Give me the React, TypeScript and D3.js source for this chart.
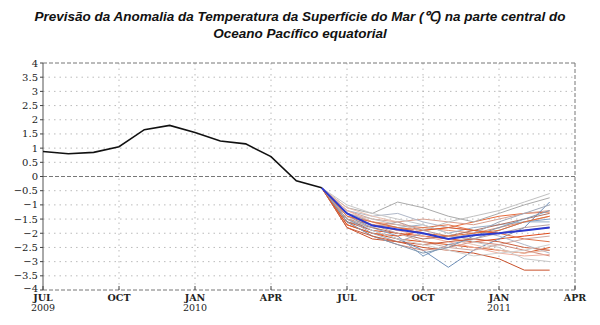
import React from "react";
import * as d3 from "d3";

const titleLines = [
  "Previsão da Anomalia da Temperatura da Superfície do Mar (℃) na parte central do",
  "Oceano Pacífico equatorial",
];
const yTicks = [-4, -3.5, -3, -2.5, -2, -1.5, -1, -0.5, 0, 0.5, 1, 1.5, 2, 2.5, 3, 3.5, 4];
const xTickMonths = [0, 3, 6, 9, 12, 15, 18, 21];
const xTickLabels = ["JUL", "OCT", "JAN", "APR", "JUL", "OCT", "JAN", "APR"];
const xTickYears = ["2009", "", "2010", "", "", "", "2011", ""];

// observed: Jul 2009 .. Jun 2010 (month index 0..11)
const observed = [0.88, 0.8, 0.85, 1.05, 1.65, 1.8, 1.55, 1.25, 1.15, 0.7, -0.15, -0.4];
// forecasts: Jun 2010 .. Mar 2011 (month index 11..20)
const forecastStart = 11;
const memberColors = [
  "#e04a1a", "#d9531e", "#e86a3a", "#c9502a", "#e89070", "#d8a090", "#aaaaaa", "#c0c0c0",
  "#7f9fc4", "#6f8fb8", "#9ab0c8", "#b0b8c8", "#d08878", "#e07850", "#f0b0a0", "#c8c8c8",
  "#b07060", "#e05828", "#a0a8b8", "#d0a8a0", "#e8c0b0", "#8098b0", "#cc6040", "#d0d0d0",
  "#b8a0a0", "#e2703c",
];
const members = [
  [-0.4, -1.6, -1.9, -2.0, -2.1, -2.2, -2.3, -2.2, -2.1, -2.0],
  [-0.4, -1.7, -2.0, -2.2, -2.3, -2.4, -2.5, -2.6, -2.7, -2.5],
  [-0.4, -1.5, -1.7, -1.8, -1.9, -1.8, -1.6, -1.4, -1.3, -1.25],
  [-0.4, -1.8, -2.2, -2.3, -2.5, -2.6, -2.7, -2.9, -3.3, -3.3],
  [-0.4, -1.3, -1.6, -1.7, -1.8, -1.9, -2.0, -1.8, -1.6, -1.4],
  [-0.4, -1.2, -1.5, -1.6, -1.5, -1.6, -1.7, -1.5, -1.3, -1.2],
  [-0.4, -1.1, -1.3, -0.9, -1.1, -1.4, -1.6, -1.3, -1.0, -0.75],
  [-0.4, -1.3, -1.5, -1.7, -1.9, -1.6, -1.4, -1.2, -0.9, -0.6],
  [-0.4, -1.4, -1.8, -2.1, -2.8, -2.4, -2.2, -1.9, -1.6, -1.5],
  [-0.4, -1.5, -1.9, -2.2, -2.6, -3.2, -2.6, -2.2, -1.8, -0.9],
  [-0.4, -1.3, -1.6, -1.8, -1.7, -2.0, -1.8, -1.7, -1.6, -1.6],
  [-0.4, -1.2, -1.4, -1.3, -1.6, -1.8, -1.9, -2.1, -2.4, -2.7],
  [-0.4, -1.6, -2.1, -2.4, -2.6, -2.5, -2.3, -2.4, -2.6, -2.8],
  [-0.4, -1.4, -1.7, -1.9, -1.8, -1.7, -1.9, -2.0, -2.2, -2.3],
  [-0.4, -1.2, -1.6, -1.9, -2.1, -2.3, -2.5, -2.7, -2.8, -2.75],
  [-0.4, -1.0, -1.3, -1.5, -1.7, -2.0, -2.3, -2.5, -2.9, -3.0],
  [-0.4, -1.6, -1.8, -2.0, -2.2, -2.1, -1.9, -1.7, -1.5, -1.3],
  [-0.4, -1.7, -2.0, -2.1, -1.9, -1.8, -1.9, -2.0, -1.9, -1.8],
  [-0.4, -1.5, -2.0, -2.3, -2.0, -2.2, -2.0, -1.6, -1.3, -1.0],
  [-0.4, -1.3, -1.7, -2.0, -2.3, -2.5, -2.6, -2.4, -2.2, -2.1],
  [-0.4, -1.1, -1.4, -1.6, -2.0, -2.2, -2.4, -2.6, -2.7, -2.6],
  [-0.4, -1.6, -2.1, -2.4, -2.7, -2.5, -2.1, -1.8, -1.5, -1.2],
  [-0.4, -1.8, -2.1, -2.3, -2.4, -2.3, -2.2, -2.3, -2.5, -2.6],
  [-0.4, -1.4, -1.9, -2.2, -2.4, -2.6, -2.8, -2.7, -2.6, -2.4],
  [-0.4, -1.5, -1.8, -1.6, -1.9, -2.1, -2.2, -2.0, -1.8, -1.7],
  [-0.4, -1.4, -1.6, -1.8, -2.0, -2.1, -2.0, -1.9, -1.6, -1.4],
];
const ensembleMean = [-0.4, -1.3, -1.73, -1.87, -2.0, -2.2, -2.07, -2.0, -1.9, -1.8];

export default function App() {
  const W = 600, H = 325;
  const x = d3.scaleLinear().domain([0, 21]).range([43, 575]);
  const y = d3.scaleLinear().domain([-4, 4]).range([290, 63]);
  const line = d3
    .line<number>()
    .x((_, i) => x(i))
    .y((d) => y(d));
  const fline = d3
    .line<number>()
    .x((_, i) => x(forecastStart + i))
    .y((d) => y(d));
  const tickFont = "'DejaVu Serif', serif";
  return (
    <svg width={W} height={H} style={{ position: "absolute", left: 0, top: 0, background: "#fff" }}>
      <rect width={W} height={H} fill="#fff" />
      {titleLines.map((t, i) => (
        <text
          key={i}
          x={300}
          y={21 + i * 17}
          textAnchor="middle"
          fontFamily="'Liberation Sans', Arial, sans-serif"
          fontWeight="bold"
          fontStyle="italic"
          fontSize={13.5}
          fill="#111"
        >
          {t}
        </text>
      ))}
      {/* horizontal grid */}
      {yTicks.map((v) =>
        v === 0 || v === 4 || v === -4 ? null : (
          <line key={"g" + v} x1={x(0)} x2={x(21)} y1={y(v)} y2={y(v)} stroke="#aaa" strokeWidth={0.8} strokeDasharray="1.5,4" />
        )
      )}
      {/* vertical grid */}
      {xTickMonths.slice(1, -1).map((m) => (
        <line key={"v" + m} x1={x(m)} x2={x(m)} y1={y(4)} y2={y(-4)} stroke="#aaa" strokeWidth={0.8} strokeDasharray="1.5,4" />
      ))}
      {/* zero line */}
      <line x1={x(0)} x2={x(21)} y1={y(0)} y2={y(0)} stroke="#777" strokeWidth={1} strokeDasharray="4,2" />
      {/* frame */}
      <line x1={x(0)} x2={x(21)} y1={y(4)} y2={y(4)} stroke="#777" strokeWidth={1} strokeDasharray="4,2" />
      <line x1={x(0)} x2={x(21)} y1={y(-4)} y2={y(-4)} stroke="#777" strokeWidth={1} strokeDasharray="4,2" />
      <line x1={x(21)} x2={x(21)} y1={y(4)} y2={y(-4)} stroke="#777" strokeWidth={1} strokeDasharray="4,2" />
      <line x1={x(0)} x2={x(0)} y1={y(4)} y2={y(-4)} stroke="#555" strokeWidth={1} />
      {/* y ticks */}
      {yTicks.map((v) => (
        <g key={"yt" + v}>
          <line x1={x(0) - 3} x2={x(0)} y1={y(v)} y2={y(v)} stroke="#444" />
          <text x={x(0) - 5} y={y(v) + (v === -4 ? 1.5 : 3.5)} textAnchor="end" fontFamily={tickFont} fontSize={10} fill="#222">
            {v < 0 ? "\u2212" + Math.abs(v) : String(v)}
          </text>
        </g>
      ))}
      {/* x ticks */}
      {xTickMonths.map((m, i) => (
        <g key={"xt" + m}>
          <line x1={x(m)} x2={x(m)} y1={y(-4)} y2={y(-4) - 4} stroke="#444" />
          <text x={x(m)} y={y(-4) + 11} textAnchor="middle" fontFamily={tickFont} fontWeight="bold" fontSize={9.5} fill="#222">
            {xTickLabels[i]}
          </text>
          {xTickYears[i] && (
            <text x={x(m)} y={y(-4) + 21} textAnchor="middle" fontFamily={tickFont} fontSize={9.5} fill="#222">
              {xTickYears[i]}
            </text>
          )}
        </g>
      ))}
      {/* ensemble members */}
      {members.map((m, i) => (
        <path key={"m" + i} d={fline(m) || ""} fill="none" stroke={memberColors[i]} strokeWidth={1} />
      ))}
      <path d={fline(ensembleMean) || ""} fill="none" stroke="#2b3ad0" strokeWidth={2} />
      <path d={line(observed) || ""} fill="none" stroke="#111" strokeWidth={1.6} />
    </svg>
  );
}
